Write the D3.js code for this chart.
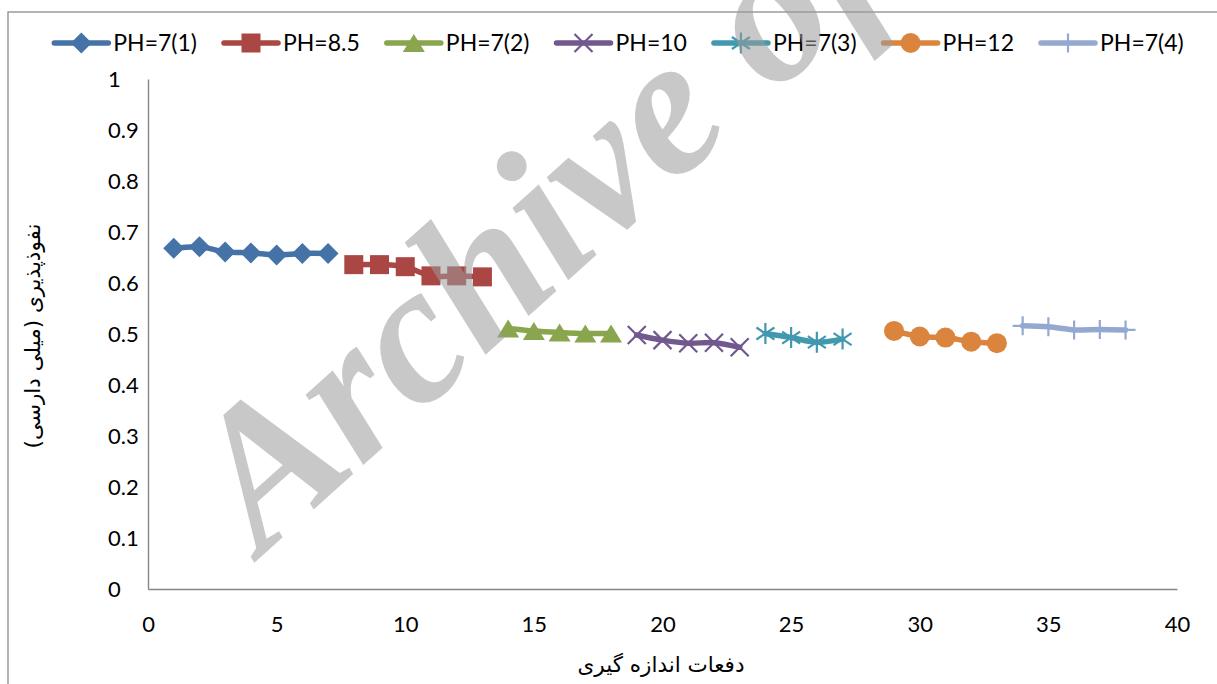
<!DOCTYPE html>
<html>
<head>
<meta charset="utf-8">
<script src="https://cdn.jsdelivr.net/npm/d3@7"></script>
<style>
  body { margin: 0; background: #fff; }
  svg { display: block; }
</style>
</head>
<body>
<div id="chart"></div>
<script>
// data
const seriesNames = ["PH=7(1)", "PH=8.5", "PH=7(2)", "PH=10", "PH=7(3)", "PH=12", "PH=7(4)"];
const seriesColors = ["#4572A7", "#AA4643", "#89A54E", "#71588F", "#4198AF", "#DB843D", "#93A9CF"];
const seriesShapes = ["diamond", "square", "triangle", "times", "asterisk", "circle", "plus"];

const xPH7a = [1, 2, 3, 4, 5, 6, 7];
const yPH7a = [0.668, 0.671, 0.661, 0.659, 0.655, 0.658, 0.658];
const xPH85 = [8, 9, 10, 11, 12, 13];
const yPH85 = [0.636, 0.636, 0.632, 0.614, 0.614, 0.612];
const xPH7b = [14, 15, 16, 17, 18];
const yPH7b = [0.511, 0.506, 0.503, 0.501, 0.501];
const xPH10 = [19, 20, 21, 22, 23];
const yPH10 = [0.498, 0.488, 0.482, 0.483, 0.474];
const xPH7c = [24, 25, 26, 27];
const yPH7c = [0.501, 0.493, 0.484, 0.490];
const xPH12 = [29, 30, 31, 32, 33];
const yPH12 = [0.506, 0.495, 0.493, 0.485, 0.482];
const xPH7d = [34, 35, 36, 37, 38];
const yPH7d = [0.516, 0.514, 0.508, 0.509, 0.508];

const xTicks = [0, 5, 10, 15, 20, 25, 30, 35, 40];
const yTicks = [0, 0.1, 0.2, 0.3, 0.4, 0.5, 0.6, 0.7, 0.8, 0.9, 1];
const xTitle = "دفعات اندازه گیری";
const yTitle = "نفوذپذیری (میلی دارسی)";
const watermark = "Archive of SID";

const xRuns = [xPH7a, xPH85, xPH7b, xPH10, xPH7c, xPH12, xPH7d];
const yRuns = [yPH7a, yPH85, yPH7b, yPH10, yPH7c, yPH12, yPH7d];
const series = seriesNames.map((name, i) => ({
  name,
  color: seriesColors[i],
  shape: seriesShapes[i],
  values: xRuns[i].map((x, j) => ({ x, y: yRuns[i][j] }))
}));

const W = 1217, H = 684;
const plot = { left: 148, right: 1177, top: 79, bottom: 589 };
const font = "Lato, 'Open Sans', sans-serif";

const svg = d3.select("#chart").append("svg")
  .attr("width", W)
  .attr("height", H);

// chart border (only top + left edges fall inside the window)
svg.append("rect")
  .attr("x", 8).attr("y", 12)
  .attr("width", W + 20).attr("height", H + 20)
  .attr("fill", "#fff")
  .attr("stroke", "#8c8c8c")
  .attr("stroke-width", 1.3);

const x = d3.scaleLinear().domain([0, 40]).range([plot.left, plot.right]);
const y = d3.scaleLinear().domain([0, 1]).range([plot.bottom, plot.top]);

// axes: no ticks, grey line; y labels are left aligned (rtl sheet)
svg.append("g")
  .attr("transform", `translate(${plot.left},0)`)
  .call(d3.axisLeft(y).tickValues(yTicks).tickSize(0).tickFormat(d3.format("~g")))
  .call(g => g.select(".domain").attr("stroke", "#868686").attr("stroke-width", 1.4))
  .call(g => g.selectAll("text")
    .attr("x", -40)
    .attr("text-anchor", "start")
    .attr("fill", "#000")
    .style("font-family", font).style("font-size", "22px"));

svg.append("g")
  .attr("transform", `translate(0,${plot.bottom})`)
  .call(d3.axisBottom(x).tickValues(xTicks).tickSize(0).tickPadding(43).tickFormat(d3.format("~g")))
  .call(g => g.select(".domain").attr("stroke", "#868686").attr("stroke-width", 1.4))
  .call(g => g.selectAll("text").attr("fill", "#000").style("font-family", font).style("font-size", "22px").attr("dy", "0"));

// axis titles
svg.append("text")
  .attr("x", 661).attr("y", 672)
  .attr("text-anchor", "middle")
  .attr("direction", "rtl")
  .style("font-family", "'DejaVu Sans', sans-serif")
  .style("font-size", "21.5px")
  .text(xTitle);

svg.append("text")
  .attr("transform", "translate(40,336) rotate(-90)")
  .attr("text-anchor", "middle")
  .attr("direction", "rtl")
  .style("font-family", "'DejaVu Sans', sans-serif")
  .style("font-size", "21.5px")
  .text(yTitle);

// marker shapes
function markerPath(shape) {
  switch (shape) {
    case "diamond": return "M0,-10.5L10.5,0L0,10.5L-10.5,0Z";
    case "square": return "M-9.5,-9.5H9.5V9.5H-9.5Z";
    case "triangle": return "M0,-9L11,9H-11Z";
    case "circle": return d3.arc()({ innerRadius: 0, outerRadius: 10, startAngle: 0, endAngle: 2 * Math.PI });
    case "times": return "M-9,-9L9,9M9,-9L-9,9";
    case "asterisk": return "M0,-10.5V10.5M-9,-6L9,6M9,-6L-9,6";
    case "plus": return "M0,-9.5V9.5M-10,0H10";
  }
}
const filled = s => ["diamond", "square", "triangle", "circle"].includes(s);

function drawMarker(sel, s) {
  sel.append("path")
    .attr("d", markerPath(s.shape))
    .attr("fill", filled(s.shape) ? s.color : "none")
    .attr("stroke", s.color)
    .attr("stroke-width", filled(s.shape) ? 0 : 2.2)
    .attr("stroke-linecap", "butt");
}

const line = d3.line()
  .x(d => x(d.x))
  .y(d => y(d.y))
  .curve(d3.curveCatmullRom.alpha(0.5));

series.forEach(s => {
  const g = svg.append("g");
  g.append("path")
    .datum(s.values)
    .attr("fill", "none")
    .attr("stroke", s.color)
    .attr("stroke-width", 5.5)
    .attr("stroke-linecap", "round")
    .attr("stroke-linejoin", "round")
    .attr("d", line);
  g.selectAll("g.pt")
    .data(s.values)
    .join("g")
    .attr("class", "pt")
    .attr("transform", d => `translate(${x(d.x)},${y(d.y)})`)
    .each(function () { drawMarker(d3.select(this), s); });
});

// legend, centred in the chart area
const legend = svg.append("g");
const items = legend.selectAll("g").data(series).join("g");
items.append("line")
  .attr("x1", 0).attr("x2", 54)
  .attr("stroke", d => d.color)
  .attr("stroke-width", 5.5)
  .attr("stroke-linecap", "round");
items.each(function (d) {
  const m = d3.select(this).append("g").attr("transform", "translate(27,0)");
  drawMarker(m, d);
});
items.append("text")
  .attr("x", 59)
  .attr("dy", "0.36em")
  .style("font-family", font)
  .style("font-size", "23px")
  .text(d => d.name);

let cursor = 0;
items.each(function () {
  const w = this.querySelector("text").getComputedTextLength();
  d3.select(this).attr("transform", `translate(${cursor},0)`);
  cursor += 59 + w + 27;
});
const total = cursor - 27;
legend.attr("transform", `translate(${619 - total / 2},43)`);

// grey watermark lying over the plot
svg.append("text")
  .attr("transform", "translate(262,556) rotate(-42)")
  .style("font-family", "'Liberation Serif', serif")
  .style("font-weight", "bold")
  .style("font-style", "italic")
  .style("font-size", "198px")
  .attr("fill", "#9a9a9a")
  .attr("fill-opacity", 0.55)
  .text(watermark);
</script>
</body>
</html>
